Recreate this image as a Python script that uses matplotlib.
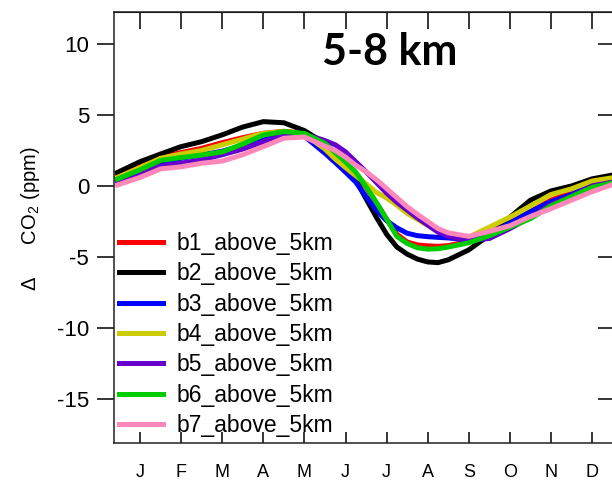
import matplotlib
matplotlib.use('Agg')
import matplotlib.pyplot as plt

plt.rcParams['font.family'] = ['Liberation Sans', 'DejaVu Sans']
plt.rcParams['mathtext.fontset'] = 'custom'
plt.rcParams['mathtext.rm'] = 'Liberation Sans'
plt.rcParams['axes.unicode_minus'] = False

# month position (1 = Jan tick) for every sample
months = [0.45, 1, 1.5, 2, 2.5, 3, 3.5, 4, 4.5, 5, 5.5, 5.75, 6, 6.25, 6.5,
          6.75, 7, 7.25, 7.5, 7.75, 8, 8.25, 8.5, 9, 9.5, 10, 10.5, 11, 11.5,
          12, 12.55]

b1 = [0.77, 1.45, 2.05, 2.35, 2.65, 3.05, 3.4, 3.71, 3.85, 3.7, 3.0, 2.2, 1.6,
      0.85, -0.1, -1.2, -2.35, -3.4, -3.95, -4.15, -4.22, -4.25, -4.2, -3.9,
      -3.3, -2.6, -1.8, -1.0, -0.45, 0.1, 0.45]
b2 = [0.95, 1.71, 2.25, 2.77, 3.12, 3.6, 4.15, 4.53, 4.45, 3.9, 3.0, 2.1, 1.4,
      0.4, -0.9, -2.2, -3.4, -4.3, -4.8, -5.15, -5.35, -5.4, -5.2, -4.5,
      -3.45, -2.2, -1.0, -0.35, 0.0, 0.5, 0.8]
b3 = [0.55, 1.1, 1.6, 1.95, 2.18, 2.45, 2.85, 3.24, 3.59, 3.5, 2.3, 1.65, 0.98,
      0.27, -0.75, -1.7, -2.45, -2.95, -3.33, -3.5, -3.57, -3.62, -3.66, -3.8,
      -3.4, -2.6, -1.8, -1.1, -0.6, 0.1, 0.4]
b4 = [0.6, 1.3, 1.95, 2.25, 2.5, 2.9, 3.3, 3.71, 3.83, 3.65, 2.6, 1.9, 1.3,
      0.72, 0.15, -0.45, -0.85, -1.35, -1.93, -2.35, -2.78, -3.15, -3.45,
      -3.6, -2.9, -2.2, -1.4, -0.6, -0.2, 0.35, 0.6]
b5 = [0.3, 0.85, 1.4, 1.6, 1.83, 2.2, 2.6, 3.12, 3.55, 3.65, 3.2, 2.9, 2.4,
      1.7, 1.0, 0.25, -0.5, -1.15, -1.7, -2.25, -2.75, -3.25, -3.55, -3.85,
      -3.7, -3.0, -2.2, -1.3, -0.7, 0.0, 0.3]
b6 = [0.49, 1.14, 1.8, 2.0, 2.18, 2.4, 2.95, 3.59, 3.83, 3.7, 3.0, 2.35, 1.7,
      0.97, -0.05, -1.15, -2.33, -3.55, -4.05, -4.35, -4.45, -4.42, -4.3,
      -4.0, -3.5, -2.9, -2.3, -1.4, -0.75, -0.1, 0.25]
b7 = [0.07, 0.6, 1.2, 1.35, 1.6, 1.75, 2.2, 2.77, 3.36, 3.45, 2.8, 2.5, 2.03,
      1.45, 1.0, 0.45, -0.18, -0.83, -1.46, -2.0, -2.5, -3.0, -3.3, -3.55,
      -3.2, -2.8, -2.15, -1.6, -1.0, -0.4, 0.15]

series = [b1, b2, b3, b4, b5, b6, b7]
names = ['b1_above_5km', 'b2_above_5km', 'b3_above_5km', 'b4_above_5km',
         'b5_above_5km', 'b6_above_5km', 'b7_above_5km']
colors = ['#ff0000', '#000000', '#0000ff', '#cccc00', '#6600cc', '#00cc00', '#ff88bb']

month_labels = ['J', 'F', 'M', 'A', 'M', 'J', 'J', 'A', 'S', 'O', 'N', 'D']
yticks = [10, 5, 0, -5, -10, -15]

W, H = 612, 480
fig = plt.figure(figsize=(W / 100, H / 100), dpi=100)
ax = fig.add_axes([114 / W, 1 - 443 / H, (615 - 114) / W, (443 - 12) / H])

for vals, name, c in zip(series, names, colors):
    ax.plot(months, vals, color=c, lw=3.6, label=name)

ax.set_xlim(0.367, 12.557)
ax.set_ylim(-18.1, 12.25)

ax.set_xticks(range(1, 13))
ax.set_xticklabels(month_labels)
ax.set_yticks(yticks)
ax.tick_params(axis='x', direction='in', length=8, width=1.1, pad=15, labelsize=13)
ax.tick_params(axis='y', direction='out', length=12, width=1.1, pad=6, labelsize=16)
for s in ax.spines.values():
    s.set_linewidth(1.1)
    s.set_color('#222222')

# mirror ticks pointing inward on top and right
top = ax.secondary_xaxis('top')
top.set_xticks(range(1, 13))
top.tick_params(direction='in', length=12, width=1.1, labeltop=False)
right = ax.secondary_yaxis('right')
right.set_yticks(yticks)
right.tick_params(direction='in', length=12, width=1.1, labelright=False)

fig.text(30 / W, 1 - 219 / H, 'Δ      CO$_2$ (ppm)', rotation=90,
         ha='center', va='center', fontsize=14.5)

fig.text(390 / W, 1 - 52 / H, '5-8 km', fontsize=31, fontweight='bold',
         family='Lato', ha='center', va='center')

leg = ax.legend(loc='upper left', bbox_to_anchor=(119 / W, 1 - 232 / H),
                bbox_transform=fig.transFigure, frameon=False, fontsize=16.5,
                handlelength=1.9, handletextpad=0.6, labelspacing=0.32,
                borderpad=0, borderaxespad=0)
for line in leg.get_lines():
    line.set_linewidth(3.6)

fig.savefig('out.png', dpi=100)
